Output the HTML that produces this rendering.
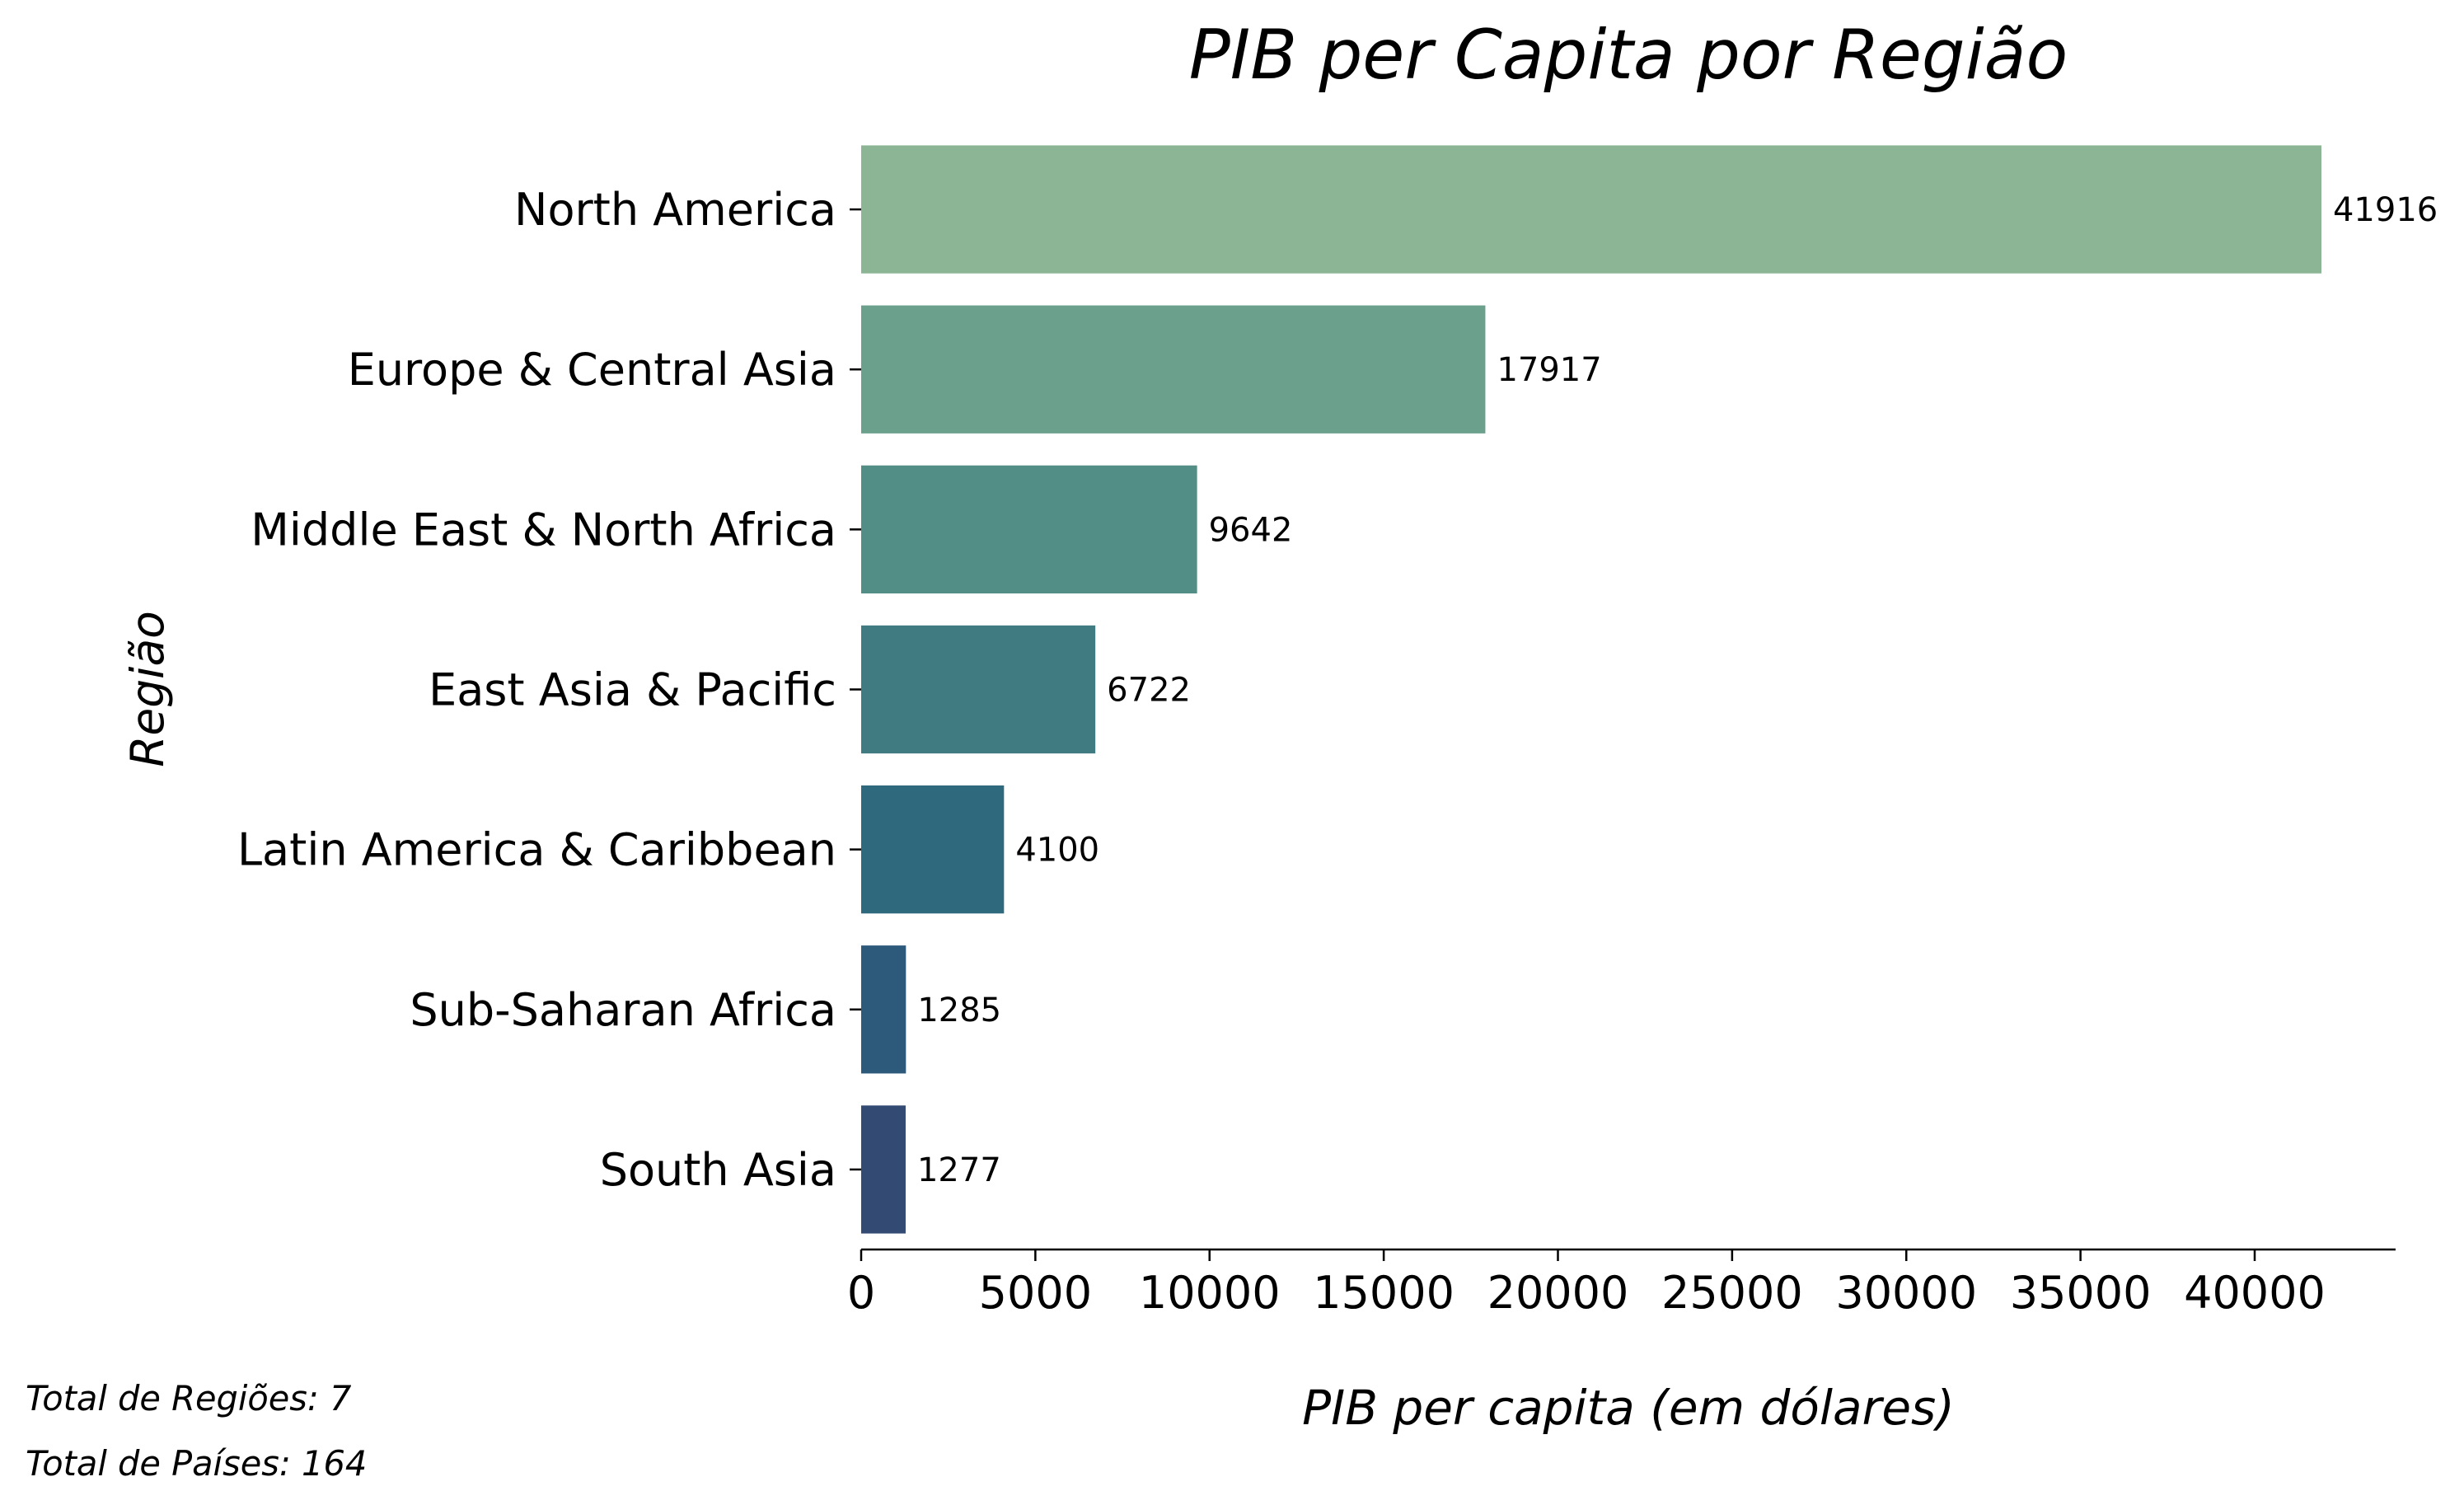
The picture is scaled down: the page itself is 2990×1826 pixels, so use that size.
<!DOCTYPE html>
<html><head><meta charset="utf-8"><style>
html,body{margin:0;padding:0;background:#fff;}
svg{display:block;font-family:"DejaVu Sans","Liberation Sans",sans-serif;}
</style></head><body>
<svg id="chart" width="2990" height="1826" viewBox="0 0 2990 1826" xmlns="http://www.w3.org/2000/svg">
<rect width="2990" height="1826" fill="#fff"/>
<text x="1976" y="95" font-size="83" font-style="italic" text-anchor="middle" fill="#000">PIB per Capita por Região</text>
<text x="1976" y="1728" font-size="58" font-style="italic" text-anchor="middle" fill="#000">PIB per capita (em dólares)</text>
<text transform="translate(198,836) rotate(-90)" font-size="55" font-style="italic" text-anchor="middle" fill="#000">Região</text>
<text x="31" y="1711" font-size="41.5" font-style="italic" fill="#000">Total de Regiões: 7</text>
<text x="31" y="1790" font-size="41.5" font-style="italic" fill="#000">Total de Países: 164</text>
<g id="bars"></g>
<g id="xaxis"></g>
</svg>
<script>
const categories = ["North America","Europe & Central Asia","Middle East & North Africa","East Asia & Pacific","Latin America & Caribbean","Sub-Saharan Africa","South Asia"];
const values = [41916,17917,9642,6722,4100,1285,1277];
const valueLabels = ["41916","17917","9642","6722","4100","1285","1277"];
const xTicks = [0,5000,10000,15000,20000,25000,30000,35000,40000];
const colors = ["#8bb594","#6ba18c","#538e86","#3f7b80","#2f697d","#2d5a7a","#334a73"];

const NS = "http://www.w3.org/2000/svg";
const X0 = 1045, XEND = 2907, YTOP = 157, YBOT = 1516;
const PX_PER_UNIT = (2736 - 1045) / 40000;
function xScale(v){ return X0 + v * PX_PER_UNIT; }
const band = (YBOT - YTOP) / categories.length;
function yCenter(i){ return YTOP + band * (i + 0.5); }
function mk(tag, attrs){ const e = document.createElementNS(NS, tag); for (const k in attrs) e.setAttribute(k, attrs[k]); return e; }

const gb = document.getElementById('bars');
categories.forEach((c, i) => {
  const cy = yCenter(i), h = band * 0.8;
  const r = mk('rect', {x: xScale(0), y: cy - h/2, width: xScale(values[i]) - xScale(0), height: h, fill: colors[i]});
  
  
  gb.appendChild(r);
  const t = mk('text', {x: xScale(values[i]) + 14, y: cy + 14, 'font-size': 40, fill: '#000'});
  t.textContent = valueLabels[i];
  
  
  gb.appendChild(t);
  const tk = mk('line', {x1: X0 - 14, x2: X0, y1: cy, y2: cy, stroke: '#000', 'stroke-width': 2.5});
  
  
  gb.appendChild(tk);
  const lb = mk('text', {x: 1015, y: cy + 19, 'font-size': 54, 'text-anchor': 'end', fill: '#000'});
  lb.textContent = c;
  
  
  gb.appendChild(lb);
});

const gx = document.getElementById('xaxis');
const ax = mk('line', {x1: X0, x2: XEND, y1: YBOT, y2: YBOT, stroke: '#000', 'stroke-width': 2.5});


gx.appendChild(ax);
xTicks.forEach(v => {
  const x = xScale(v);
  const l = mk('line', {x1: x, x2: x, y1: YBOT, y2: YBOT + 14, stroke: '#000', 'stroke-width': 2.5});
  
  
  gx.appendChild(l);
  const t = mk('text', {x: x, y: 1587, 'font-size': 54, 'text-anchor': 'middle', fill: '#000'});
  t.textContent = String(v);
  
  
  gx.appendChild(t);
});
</script>
</body></html>
